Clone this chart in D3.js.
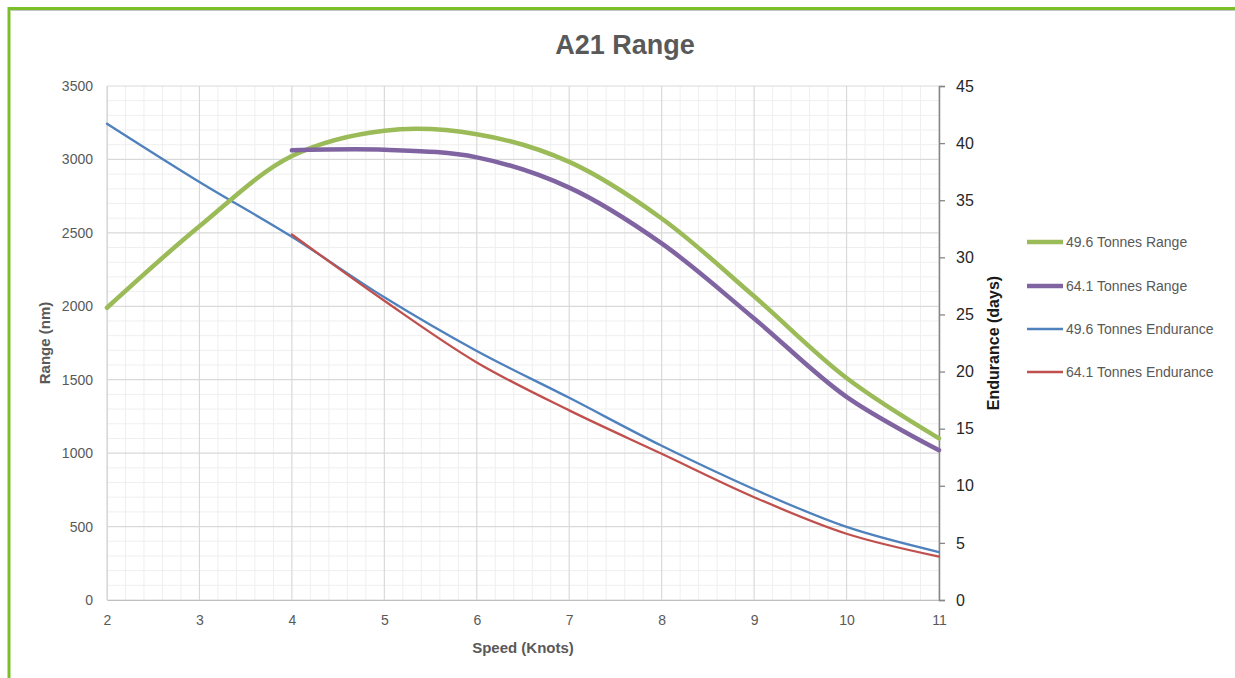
<!DOCTYPE html>
<html>
<head>
<meta charset="utf-8">
<script src="https://cdn.jsdelivr.net/npm/d3@7"></script>
<style>
  html, body { margin: 0; padding: 0; background: #fff; }
  svg { display: block; }
</style>
</head>
<body>
<svg id="chart" width="1235" height="678"></svg>
<script>
// ---- Data ----
const speeds = [2, 3, 4, 5, 6, 7, 8, 9, 10, 11];
const speedsHeavy = [4, 5, 6, 7, 8, 9, 10, 11];
const range496 = [1990, 2545, 3023, 3196, 3172, 2983, 2598, 2068, 1512, 1101];
const range641 = [3062, 3066, 3014, 2808, 2428, 1917, 1383, 1020];
const endurance496 = [41.7, 36.6, 31.8, 26.5, 21.8, 17.7, 13.5, 9.7, 6.4, 4.2];
const endurance641 = [32.0, 26.2, 20.8, 16.6, 12.8, 9.0, 5.8, 3.8];
const xTicks = [2, 3, 4, 5, 6, 7, 8, 9, 10, 11];
const yLeftTicks = [0, 500, 1000, 1500, 2000, 2500, 3000, 3500];
const yRightTicks = [0, 5, 10, 15, 20, 25, 30, 35, 40, 45];
const seriesNames = ["49.6 Tonnes Range", "64.1 Tonnes Range", "49.6 Tonnes Endurance", "64.1 Tonnes Endurance"];
const seriesColors = ["#9BBB59", "#8064A2", "#4F81BD", "#C0504D"];

// ---- Layout ----
const svg = d3.select("#chart");
const L = 107, R = 939, T = 86, B = 600;
const x = d3.scaleLinear().domain([2, 11]).range([L, R]);
const yL = d3.scaleLinear().domain([0, 3500]).range([B, T]);
const yR = d3.scaleLinear().domain([0, 45]).range([B, T]);

// border
svg.append("path").attr("d", `M9,678 L9,8.5 L1235,8.5`)
  .attr("fill", "none").attr("stroke", "#7ABF2A").attr("stroke-width", 3);
svg.append("line").attr("x1", 11).attr("x2", 1235).attr("y1", 10.5).attr("y2", 10.5)
  .attr("stroke", "#b8b8b8").attr("stroke-width", 0.8);

// title
svg.append("text").attr("x", 625).attr("y", 54).attr("text-anchor", "middle")
  .attr("font-family", "Liberation Sans, Arial, sans-serif").attr("font-weight", "bold")
  .attr("font-size", 27).attr("fill", "#595959").text("A21 Range");

// minor grid
const minorX = d3.range(2, 11.0001, 0.2).filter(v => Math.abs(v - Math.round(v)) > 1e-6);
const minorY = d3.range(0, 3501, 100).filter(v => v % 500 !== 0);
const grid = svg.append("g");
grid.selectAll(".mx").data(minorX).join("line")
  .attr("x1", d => x(d)).attr("x2", d => x(d)).attr("y1", T).attr("y2", B)
  .attr("stroke", "#efefef").attr("stroke-width", 1);
grid.selectAll(".my").data(minorY).join("line")
  .attr("x1", L).attr("x2", R).attr("y1", d => yL(d)).attr("y2", d => yL(d))
  .attr("stroke", "#efefef").attr("stroke-width", 1);
// major grid
grid.selectAll(".Mx").data(xTicks).join("line")
  .attr("x1", d => x(d)).attr("x2", d => x(d)).attr("y1", T).attr("y2", B)
  .attr("stroke", "#d9d9d9").attr("stroke-width", 1.2);
grid.selectAll(".My").data(yLeftTicks).join("line")
  .attr("x1", L).attr("x2", R).attr("y1", d => yL(d)).attr("y2", d => yL(d))
  .attr("stroke", "#d9d9d9").attr("stroke-width", 1.2);

// bottom axis
const xAxis = d3.axisBottom(x).tickValues(xTicks).tickSize(0).tickPadding(15).tickFormat(d3.format("d"));
const gx = svg.append("g").attr("transform", `translate(0,${B})`).call(xAxis);
gx.select(".domain").attr("stroke", "#bfbfbf").attr("stroke-width", 1.2);
gx.selectAll("text").attr("font-family", "Liberation Sans, Arial, sans-serif")
  .attr("font-size", 14).attr("fill", "#595959");

// left axis
const yAxisL = d3.axisLeft(yL).tickValues(yLeftTicks).tickSize(0).tickPadding(14).tickFormat(d3.format("d"));
const gyl = svg.append("g").attr("transform", `translate(${L},0)`).call(yAxisL);
gyl.select(".domain").attr("stroke", "#d9d9d9").attr("stroke-width", 1.2);
gyl.selectAll("text").attr("font-family", "Liberation Sans, Arial, sans-serif")
  .attr("font-size", 14).attr("fill", "#595959");

// right axis
const yAxisR = d3.axisRight(yR).tickValues(yRightTicks).tickSize(6).tickPadding(11).tickFormat(d3.format("d"));
const gyr = svg.append("g").attr("transform", `translate(${R},0)`).call(yAxisR);
gyr.select(".domain").attr("stroke", "#868686").attr("stroke-width", 1.5);
gyr.selectAll(".tick line").attr("stroke", "#868686").attr("stroke-width", 1.3);
gyr.selectAll("text").attr("font-family", "Liberation Sans, Arial, sans-serif")
  .attr("font-size", 16).attr("fill", "#262626");

// axis titles
svg.append("text").attr("transform", `translate(50,${(T + B) / 2}) rotate(-90)`)
  .attr("text-anchor", "middle").attr("font-family", "Liberation Sans, Arial, sans-serif")
  .attr("font-weight", "bold").attr("font-size", 15).attr("fill", "#595959").text("Range (nm)");
svg.append("text").attr("transform", `translate(999,${(T + B) / 2}) rotate(-90)`)
  .attr("text-anchor", "middle").attr("font-family", "Liberation Sans, Arial, sans-serif")
  .attr("font-weight", "bold").attr("font-size", 16).attr("fill", "#1a1a1a").text("Endurance (days)");
svg.append("text").attr("x", (L + R) / 2).attr("y", 653)
  .attr("text-anchor", "middle").attr("font-family", "Liberation Sans, Arial, sans-serif")
  .attr("font-weight", "bold").attr("font-size", 15).attr("fill", "#595959").text("Speed (Knots)");

// lines
const curve = d3.curveCatmullRom.alpha(0.5);
const lineL = d3.line().x(d => x(d[0])).y(d => yL(d[1])).curve(curve);
const lineR = d3.line().x(d => x(d[0])).y(d => yR(d[1])).curve(curve);
const lines = svg.append("g").attr("fill", "none").attr("stroke-linecap", "round");

lines.append("path").attr("d", lineR(d3.zip(speeds, endurance496)))
  .attr("stroke", seriesColors[2]).attr("stroke-width", 2.3);
lines.append("path").attr("d", lineR(d3.zip(speedsHeavy, endurance641)))
  .attr("stroke", seriesColors[3]).attr("stroke-width", 2.3);
lines.append("path").attr("d", lineL(d3.zip(speeds, range496)))
  .attr("stroke", seriesColors[0]).attr("stroke-width", 4.5);
lines.append("path").attr("d", lineL(d3.zip(speedsHeavy, range641)))
  .attr("stroke", seriesColors[1]).attr("stroke-width", 4.5);

// legend
const legendY = [242, 286, 329, 372];
const legendW = [4.5, 4.5, 2.3, 2.3];
const lg = svg.append("g");
seriesNames.forEach((name, i) => {
  lg.append("line").attr("x1", 1027).attr("x2", 1063).attr("y1", legendY[i]).attr("y2", legendY[i])
    .attr("stroke", seriesColors[i]).attr("stroke-width", legendW[i]);
  lg.append("text").attr("x", 1066).attr("y", legendY[i]).attr("dy", "0.35em")
    .attr("font-family", "Liberation Sans, Arial, sans-serif").attr("font-size", 14)
    .attr("fill", "#595959").text(name);
});
</script>
</body>
</html>
